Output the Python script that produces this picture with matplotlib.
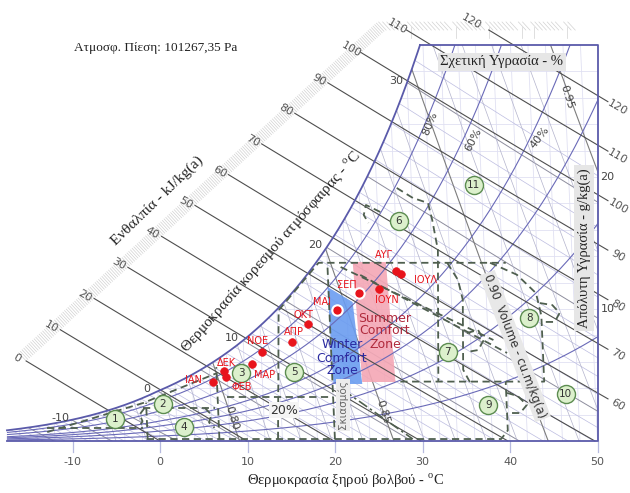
import numpy as np
import matplotlib
matplotlib.use("Agg")
import matplotlib.pyplot as plt
from matplotlib.patches import Polygon

# ------------------------------------------------------------------ data
pressure_label = "Ατμοσφ. Πίεση: 101267,35 Pa"
P_KPA = 101.26735

dry_bulb_ticks = [-10, 0, 10, 20, 30, 40, 50]
humidity_ticks = [10, 20]
enthalpy_levels = [0, 10, 20, 30, 40, 50, 60, 70, 80, 90, 100, 110, 120]
enthalpy_right_labels = [60, 70, 80, 90, 100, 110, 120]
rh_levels = [10, 20, 30, 40, 60, 80]
wet_bulb_labels = [-10, 0, 10, 20, 30]
volume_levels = [0.76, 0.77, 0.78, 0.79, 0.80, 0.81, 0.82, 0.83, 0.84, 0.85,
                 0.86, 0.87, 0.88, 0.89, 0.90, 0.91, 0.92, 0.93, 0.94, 0.95]
volume_major = [0.80, 0.85, 0.90, 0.95]

zone_numbers = [1, 2, 3, 4, 5, 6, 7, 8, 9, 10, 11]
zone_T = [-5.0, 0.5, 9.6, 2.8, 15.7, 28.4, 33.3, 42.8, 37.7, 46.6, 37.1]
zone_W = [1.67, 2.8, 5.15, 1.06, 5.2, 16.7, 6.74, 9.3, 2.7, 3.56, 19.4]

months = ["ΙΑΝ", "ΦΕΒ", "ΜΑΡ", "ΑΠΡ", "ΜΑΙ", "ΙΟΥΝ", "ΙΟΥΛ", "ΑΥΓ", "ΣΕΠ", "ΟΚΤ", "ΝΟΕ", "ΔΕΚ"]
month_T = [6.3, 7.9, 10.9, 15.6, 20.9, 25.8, 28.4, 27.8, 23.5, 17.5, 12.1, 7.7]
month_W = [4.47, 4.85, 5.83, 7.5, 9.92, 11.5, 12.65, 12.9, 11.2, 8.86, 6.74, 5.3]

winter_T = [19.9, 22.7, 23.4, 20.1]
winter_W = [11.67, 10.53, 4.32, 4.32]
summer_T = [22.9, 26.7, 27.2, 23.4]
summer_W = [13.56, 13.56, 4.47, 4.47]

zone_lines_T = [
    [13.5, 14.2, 19.0, 40.4],
    [38.6, 41.6, 43.7, 44.2, 44.2, 27.7],
    [20.0, 20.0],
    [28.3, 30.1, 31.8, 32.2, 32.7, 32.1],
    [33.7, 34.85, 35.3, 35.0, 35.7],
    [-1.5, 39.0, 39.8, 39.8],
    [6.8, 6.8],
    [-1.4, -1.4],
    [7.9, 20.0],
    [-12.85, -1.74, 6.87],
    [21.5, 38.6],
    [23.7, 40.1],
    [26.3, 24.7, 24.4, 24.9],
    [35.6, 36.9, 37.5, 36.8, 35.5],
    [39.9, 41.1, 42.1, 41.3, 39.8],
    [44.1, 45.5, 46.3, 45.7, 44.2],
    [-12.85, -1.88],
    [-1.78, 6.45],
    [-1.6, -2.2, -1.9, -2.4],
    [5.3, 6.0, 5.7, 6.3],
]
zone_lines_W = [
    [0.15, 9.9, 13.5, 13.5],
    [13.5, 12.6, 11.2, 9.5, 4.5, 4.5],
    [0.15, 13.5],
    [19.17, 18.41, 18.03, 16.74, 14.47, 4.47],
    [13.5, 12.2, 10.7, 5.4, 4.47],
    [0.15, 0.15, 0.8, 4.5],
    [0.15, 5.6],
    [0.15, 2.9],
    [3.3, 3.3],
    [0.68, 2.88, 5.15],
    [13.18, 7.65],
    [12.58, 6.67],
    [17.35, 17.88, 17.12, 16.52],
    [8.18, 8.41, 7.65, 6.89, 6.74],
    [3.64, 3.41, 2.73, 2.12, 2.12],
    [10.45, 10.3, 9.7, 9.02, 9.02],
    [0.98, 0.98],
    [2.5, 2.5],
    [2.5, 2.0, 1.5, 0.98],
    [2.5, 2.0, 1.4, 1.0],
]
shade_line_T = [21.2, 28.9]
shade_line_W = [3.86, 0.15]

# ------------------------------------------------------------------ layout / styles
SKEW = 0.065          # oblique chart: x = T - SKEW * W
T_LEFT, X_RIGHT, W_TOP = -17.5, 50.0, 30.0
PX_X0, PX_PER_T = 160.0, 8.75
PX_Y0, PX_PER_W = 441.0, 13.2
SERIF = "Liberation Serif"
SANS = "DejaVu Sans"
BOX_C = "#5a5aaa"
plt.rcParams["mathtext.fontset"] = "custom"
plt.rcParams["mathtext.rm"] = SERIF


def pix(px, py):
    return (px - PX_X0) / PX_PER_T, (PX_Y0 - py) / PX_PER_W


def off(dx, dy):
    return (dx * 0.72, -dy * 0.72)


def pws(T):
    T = np.asarray(T, float)
    water = 0.61094 * np.exp(17.625 * T / (T + 243.04))
    ice = 0.61115 * np.exp(22.452 * T / (272.55 + T))
    return np.where(T >= 0, water, ice)


def w_pw(pw):
    return 622.0 * pw / (P_KPA - pw)


def w_sat(T):
    return w_pw(pws(T))


def to_x(T, W):
    return np.asarray(T, float) - SKEW * np.asarray(W, float)


fig = plt.figure(figsize=(6.3, 4.93), dpi=100)
ax = fig.add_axes([0, 0, 1, 1])
x0, y1 = pix(0, 0)
x1, y0 = pix(630, 493)
ax.set_xlim(x0, x1)
ax.set_ylim(y0, y1)
ax.axis("off")

# chart region (below saturation)
Ts = np.linspace(-17.44, 33, 2000)
Ws = w_sat(Ts)
keep = Ws < W_TOP
T_top = np.interp(W_TOP, Ws, Ts)
sat_x = np.append(to_x(Ts[keep], Ws[keep]), to_x(T_top, W_TOP))
sat_w = np.append(Ws[keep], W_TOP)
region = np.column_stack([np.concatenate([sat_x, [X_RIGHT, X_RIGHT, T_LEFT]]),
                          np.concatenate([sat_w, [W_TOP, 0, 0]])])
clip = Polygon(region, closed=True, transform=ax.transData, fc="none", ec="none")
ax.add_patch(clip)


def cplot(x, y, **kw):
    ln, = ax.plot(x, y, **kw)
    ln.set_clip_path(clip)
    return ln


# grid
for tg in range(-16, 54, 2):
    cplot(to_x([tg, tg], [0, 31]), [0, 31], color="#e0e0f2", lw=0.6, zorder=1)
for wg in range(2, 30, 2):
    cplot([T_LEFT, X_RIGHT], [wg, wg], color="#e0e0f2", lw=0.6, zorder=1)

# wet bulb lines
for twb in range(-17, 32):
    ws0 = w_sat(twb)
    T = np.linspace(twb, 65, 300)
    if twb >= 0:
        W = ((2501 - 2.326 * twb) * ws0 - 1006 * (T - twb)) / (2501 + 1.86 * T - 4.186 * twb)
    else:
        W = ((2830 - 0.24 * twb) * ws0 - 1006 * (T - twb)) / (2830 + 1.86 * T - 2.1 * twb)
    m = W > -0.5
    major = twb % 5 == 0
    cplot(to_x(T[m], W[m]), W[m], color="#8d8d9d" if major else "#bcbce0",
          lw=0.7 if major else 0.5, zorder=2)

# volume lines
for v in volume_levels:
    W = np.linspace(0, 31, 60)
    T = v * P_KPA / (0.287042 * (1 + 0.001607858 * W)) - 273.15
    major = any(abs(v - vm) < 1e-6 for vm in volume_major)
    cplot(to_x(T, W), W, color="#7d7d7d" if major else "#b3b3cc",
          lw=0.8 if major else 0.5, zorder=2)

# comfort zones
ax.add_patch(Polygon(np.column_stack([to_x(winter_T, winter_W), winter_W]),
                     closed=True, fc="#6a9cf0", ec="none", alpha=0.9, zorder=2.5))
ax.add_patch(Polygon(np.column_stack([to_x(summer_T, summer_W), summer_W]),
                     closed=True, fc="#f4a7b5", ec="none", alpha=0.9, zorder=2.5))

# relative humidity curves
Tr = np.linspace(-17.5, 65, 800)
for rh in rh_levels:
    W = w_pw(rh / 100.0 * pws(Tr))
    cplot(to_x(Tr, W), W, color="#6a6ab8", lw=0.8, zorder=3)

# enthalpy scale and lines
SA = pix(24, 363)
SB = pix(385, 30)
s_slope = (SB[1] - SA[1]) / (SB[0] - SA[0])


def scale_w(x):
    return np.minimum(SA[1] + (x - SA[0]) * s_slope, SB[1])


X_END = pix(608, 0)[0]
Th = np.linspace(-40, 70, 6000)
ux, uy = 361.0, -333.0
ul = np.hypot(ux, uy)
nx, ny = -abs(uy) / ul, abs(ux) / ul   # up-left normal (pixel dx, data-up dy)
for h2 in range(0, 262):
    h = h2 / 2.0
    W = (h - 1.006 * Th) / (2.501 + 0.00186 * Th)
    x = to_x(Th, W)
    below = W <= scale_w(x)
    i0 = np.argmax(below)
    xs, ws_ = x[i0], W[i0]
    on_top = ws_ >= SB[1] - 1e-3
    if on_top:
        ax.plot([xs, xs], [pix(0, 27)[1], pix(0, 38)[1]], color="#d2d2d2", lw=0.5, zorder=2)
    else:
        L = 11
        ax.plot([xs, xs + nx * L / PX_PER_T], [ws_, ws_ + ny * L / PX_PER_W],
                color="#d2d2d2", lw=0.5, zorder=2)
    if h2 % 2 == 0 and int(h) in enthalpy_levels:
        h = int(h)
        m = below & (x <= X_END) & (W >= 0)
        ax.plot(x[m], W[m], color="#4e4e4e", lw=0.8, zorder=3.2)
        dxy = off(-17, -8) if on_top else off(-9, -3)
        ax.annotate(str(h), (xs, ws_), xytext=dxy, textcoords="offset points",
                    ha="center", va="center", fontsize=8, color="#555555",
                    rotation=-30, family=SANS)
        if h in enthalpy_right_labels:
            xe, we = x[m][-1], W[m][-1]
            ax.annotate(str(h), (xe, we), xytext=off(10, 6), textcoords="offset points",
                        ha="center", va="center", fontsize=8, color="#555555",
                        rotation=-30, family=SANS)

# saturation curve + box
ax.plot(sat_x, sat_w, color=BOX_C, lw=1.3, zorder=5)
ax.plot([sat_x[-1], X_RIGHT, X_RIGHT, T_LEFT], [W_TOP, W_TOP, 0, 0], color=BOX_C, lw=1.3, zorder=5)

# wet bulb labels
for twb in wet_bulb_labels:
    ws0 = float(w_sat(twb))
    ax.annotate(str(twb), (float(to_x(twb, ws0)), ws0), xytext=off(-11, -2),
                textcoords="offset points", ha="center", va="center",
                fontsize=8, color="#444444", family=SANS, zorder=6)

# zone boundaries
for zt, zw in zip(zone_lines_T, zone_lines_W):
    ax.plot(to_x(zt, zw), zw, color="#4f5f4f", lw=1.3, ls=(0, (4, 2.5)), zorder=6)
ax.plot(to_x(shade_line_T, shade_line_W), shade_line_W, color="#4f5f4f", lw=1.2,
        ls=(0, (6, 2, 1.5, 2)), zorder=6)

# axis ticks
y_tick_end = pix(0, 452)[1]
y_lab = pix(0, 462)[1]
for t in dry_bulb_ticks:
    ax.plot([t, t], [0, y_tick_end], color="#b6badf", lw=0.9, zorder=4)
    ax.text(t, y_lab, str(t), ha="center", va="center", fontsize=8, color="#555555", family=SANS)
for w in humidity_ticks:
    ax.text(X_RIGHT + 3 / PX_PER_T, w, str(w), ha="left", va="center", fontsize=8,
            color="#444444", family=SANS, zorder=7)

# zone markers
ax.plot(to_x(zone_T, zone_W), zone_W, "o", ms=13, mfc="#dcf0cc", mec="#5c8c50", mew=1.0,
        zorder=8, ls="none")
for n, zt, zw in zip(zone_numbers, zone_T, zone_W):
    ax.text(float(to_x(zt, zw)), zw, str(n), ha="center", va="center", fontsize=7.5,
            color="#333333", family=SANS, zorder=9)

# months
month_offsets = {"ΙΑΝ": (-19, -2), "ΦΕΒ": (15, 10), "ΔΕΚ": (2, -8), "ΜΑΡ": (13, 11),
                 "ΝΟΕ": (-4, -11), "ΑΠΡ": (2, -10), "ΟΚΤ": (-5, -9), "ΜΑΙ": (-15, -8),
                 "ΣΕΠ": (-12, -8), "ΙΟΥΝ": (8, 11), "ΑΥΓ": (-12, -16), "ΙΟΥΛ": (24, 6)}
mx = to_x(month_T, month_W)
for name, xm, wm in zip(months, mx, month_W):
    ring = name in ("ΜΑΙ", "ΣΕΠ")
    ax.plot([xm], [wm], "o", ms=7.5 if ring else 5.5, mfc="#e8141c",
            mec="white" if ring else "#e8141c", mew=1.5 if ring else 0.5, zorder=10)
    ax.annotate(name, (xm, wm), xytext=off(*month_offsets[name]), textcoords="offset points",
                ha="center", va="center", fontsize=7, color="#e8141c", family=SANS, zorder=10)

# text annotations


def ptext(px, py, s, **kw):
    x, y = pix(px, py)
    return ax.text(x, y, s, **kw)


ptext(385, 331, "Summer\nComfort\nZone", ha="center", va="center", fontsize=9,
      color="#b02a3c", family=SANS, linespacing=1.0, zorder=7)
ptext(342, 358, "Winter\nComfort\nZone", ha="center", va="center", fontsize=9,
      color="#2a2aa0", family=SANS, linespacing=1.0, zorder=7)
ptext(343, 405, "Σκιασμός", ha="center", va="center", fontsize=7.5, rotation=90,
      color="#666666", family=SANS, zorder=7,
      bbox=dict(boxstyle="square,pad=0.15", fc="#ececec", ec="none"))
ptext(284, 410, "20%", ha="center", va="center", fontsize=9, color="#333333", family=SANS,
      zorder=7, bbox=dict(boxstyle="square,pad=0.1", fc="#f4f4f4", ec="none"))
ptext(430, 123, "80%", ha="center", va="center", fontsize=8, rotation=68, color="#444444",
      family=SANS, zorder=7)
ptext(473, 140, "60%", ha="center", va="center", fontsize=8, rotation=62, color="#444444",
      family=SANS, zorder=7)
ptext(540, 137, "40%", ha="center", va="center", fontsize=8, rotation=52, color="#444444",
      family=SANS, zorder=7)
ptext(232, 418, "0.80", ha="center", va="center", fontsize=8, rotation=-73, color="#444444",
      family=SANS, zorder=7)
ptext(383, 412, "0.85", ha="center", va="center", fontsize=8, rotation=-73, color="#444444",
      family=SANS, zorder=7)
ptext(567, 97, "0.95", ha="center", va="center", fontsize=8, rotation=-73, color="#444444",
      family=SANS, zorder=7)
ptext(515, 346, "0.90  Volume - cu.m/kg(a)", ha="center", va="center", fontsize=8.5,
      rotation=-69, color="#333333", family=SANS, zorder=7,
      bbox=dict(boxstyle="square,pad=0.15", fc="#e8e8e8", ec="none"))

ptext(156, 48, pressure_label, ha="center", va="center", fontsize=9.5, color="#222222",
      family=SERIF)
ptext(502, 62, "Σχετική Υγρασία - %", ha="center", va="center", fontsize=10.5,
      color="#222222", family=SERIF, zorder=7,
      bbox=dict(boxstyle="square,pad=0.2", fc="#e6e6e6", ec="none"))
ptext(584, 248, "Απόλυτη Υγρασία - g/kg(a)", ha="center", va="center", fontsize=10.5,
      rotation=90, color="#222222", family=SERIF, zorder=7,
      bbox=dict(boxstyle="square,pad=0.2", fc="#e6e6e6", ec="none"))
ptext(345, 481, "Θερμοκρασία ξηρού βολβού - $^{\\rm o}$C", ha="center", va="center",
      fontsize=10.5, color="#222222", family=SERIF)
ptext(271, 252, "Θερμοκρασία κορεσμού ατμόσφαιρας - $^{\\rm o}$C", ha="center",
      va="center", fontsize=11, rotation=48.5, color="#222222", family=SERIF, zorder=7)
ptext(157, 201, "Ενθαλπία - kJ/kg(a)", ha="center", va="center", fontsize=11,
      rotation=44, color="#222222", family=SERIF, zorder=7)

fig.savefig("out.png", dpi=100, facecolor="white")
